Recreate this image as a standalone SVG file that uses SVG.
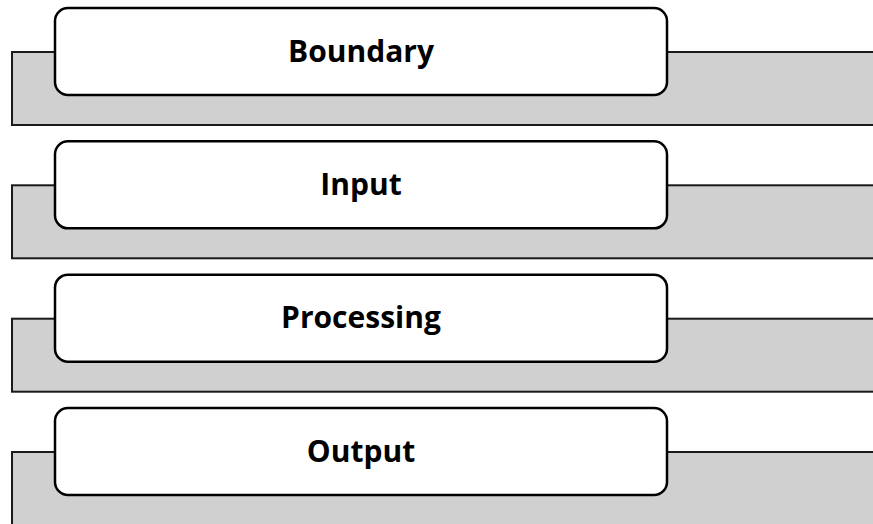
<svg xmlns="http://www.w3.org/2000/svg" width="873" height="524" viewBox="0 0 873 524">
<style>
.band{fill:#d0d0d0;stroke:#1a1a1a;stroke-width:2}
.box{fill:#ffffff;stroke:#000000;stroke-width:2.5}
.lbl{font-family:"Open Sans","Liberation Sans",sans-serif;font-weight:bold;font-size:30px;fill:#000000;text-anchor:middle}
</style>
<rect width="873" height="524" fill="#ffffff"/>
<g id="boundary">
<rect class="band" x="12" y="52" width="880" height="73"/>
<rect class="box" x="55" y="8" width="612" height="87" rx="13"/>
<text class="lbl" x="361" y="61.5">Boundary</text>
</g>
<g id="input">
<rect class="band" x="12" y="185.3" width="880" height="73"/>
<rect class="box" x="55" y="141.3" width="612" height="87" rx="13"/>
<text class="lbl" x="361" y="194.8">Input</text>
</g>
<g id="processing">
<rect class="band" x="12" y="318.7" width="880" height="73"/>
<rect class="box" x="55" y="274.7" width="612" height="87" rx="13"/>
<text class="lbl" x="361" y="328.2">Processing</text>
</g>
<g id="output">
<rect class="band" x="12" y="452" width="880" height="80"/>
<rect class="box" x="55" y="408" width="612" height="87" rx="13"/>
<text class="lbl" x="361" y="461.5">Output</text>
</g>
<g id="connectors"></g>
</svg>
